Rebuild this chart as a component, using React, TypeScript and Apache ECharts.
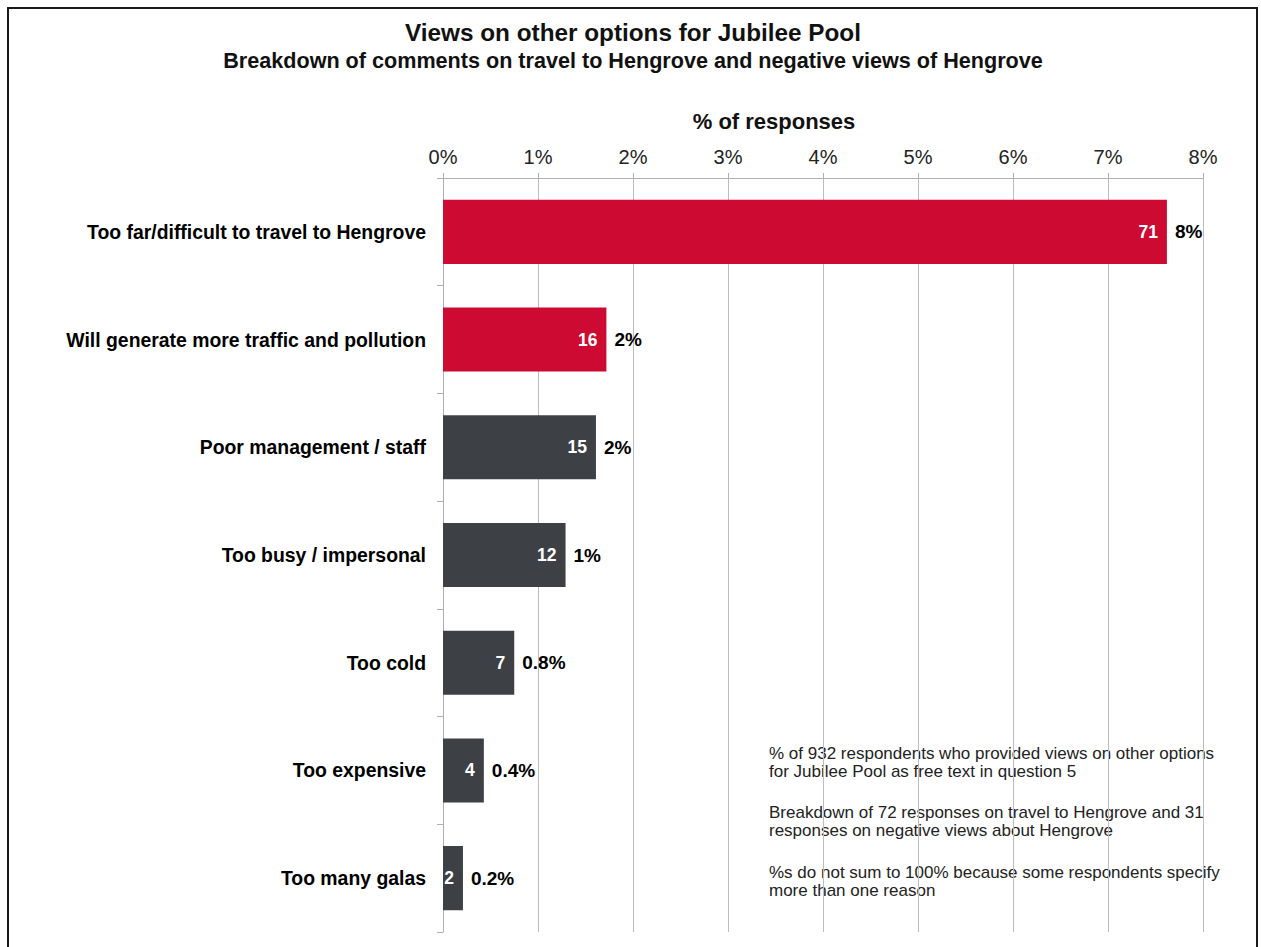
import React, { useEffect, useRef } from "react";
import * as echarts from "echarts";

const categories = [
  "Too far/difficult to travel to Hengrove",
  "Will generate more traffic and pollution",
  "Poor management / staff",
  "Too busy / impersonal",
  "Too cold",
  "Too expensive",
  "Too many galas",
];
const counts = [71, 16, 15, 12, 7, 4, 2];
const percents = [7.62, 1.72, 1.61, 1.29, 0.75, 0.43, 0.21];
const percentLabels = ["8%", "2%", "2%", "1%", "0.8%", "0.4%", "0.2%"];
const barColors = ["#cc0a32", "#cc0a32", "#3d4146", "#3d4146", "#3d4146", "#3d4146", "#3d4146"];
const xTicks = [0, 1, 2, 3, 4, 5, 6, 7, 8];

const titleText = "Views on other options for Jubilee Pool";
const subtitleText = "Breakdown of comments on travel to Hengrove and negative views of Hengrove";
const axisTitle = "% of responses";
const notes = [
  ["% of 932 respondents who provided views on other options", "for Jubilee Pool as free text in question 5"],
  ["Breakdown of 72 responses on travel to Hengrove and 31", "responses on negative views about Hengrove"],
  ["%s do not sum to 100% because some respondents specify", "more than one reason"],
];

const FONT = "'Liberation Sans', Arial, Helvetica, sans-serif";

export default function App() {
  const ref = useRef<HTMLDivElement>(null);

  useEffect(() => {
    if (!ref.current) return;
    const chart = echarts.init(ref.current, undefined, { renderer: "svg" });

    const noteTexts: any[] = [];
    const noteTops = [753, 812, 872];
    notes.forEach((para, i) => {
      para.forEach((line, j) => {
        noteTexts.push({
          type: "text",
          x: 769,
          y: noteTops[i] + j * 18,
          style: {
            text: line,
            fontFamily: FONT,
            fontSize: 17,
            fill: "#222",
            textAlign: "left",
            textVerticalAlign: "middle",
          },
        });
      });
    });

    chart.setOption({
      animation: false,
      backgroundColor: "#ffffff",
      textStyle: { fontFamily: FONT },
      grid: {
        left: 443,
        right: 58,
        top: 178,
        bottom: 15,
        containLabel: false,
        outerBoundsMode: "none",
      },
      xAxis: {
        type: "value",
        position: "top",
        min: xTicks[0],
        max: xTicks[xTicks.length - 1],
        interval: 1,
        axisLine: { show: true, lineStyle: { color: "#b0b0b0", width: 1 } },
        axisTick: { show: true, length: 5, lineStyle: { color: "#b0b0b0" } },
        splitLine: { show: true, lineStyle: { color: "#bdbdbd", width: 1 } },
        axisLabel: {
          formatter: "{value}%",
          fontFamily: FONT,
          fontSize: 20,
          color: "#222",
          margin: 11,
        },
      },
      yAxis: {
        type: "category",
        inverse: true,
        data: categories,
        axisLine: { show: true, lineStyle: { color: "#b0b0b0", width: 1 } },
        axisTick: { show: true, length: 6, lineStyle: { color: "#b0b0b0" } },
        axisLabel: {
          fontFamily: FONT,
          fontSize: 19.4,
          fontWeight: "bold",
          color: "#000",
          margin: 17,
        },
      },
      series: [
        {
          type: "bar",
          data: percents.map((v, i) => ({ value: v, itemStyle: { color: barColors[i] } })),
          barWidth: "59.5%",
          label: {
            show: true,
            position: "insideRight",
            distance: 9,
            formatter: (p: any) => String(counts[p.dataIndex]),
            fontFamily: FONT,
            fontSize: 17.5,
            fontWeight: "bold",
            color: "#ffffff",
          },
          z: 3,
        },
        {
          type: "bar",
          data: percents,
          barWidth: "59.5%",
          barGap: "-100%",
          itemStyle: { color: "rgba(0,0,0,0)" },
          label: {
            show: true,
            position: "right",
            distance: 8,
            formatter: (p: any) => percentLabels[p.dataIndex],
            fontFamily: FONT,
            fontSize: 19,
            fontWeight: "bold",
            color: "#000",
          },
          silent: true,
          z: 4,
        },
      ],
      graphic: [
        {
          type: "text",
          x: 633,
          y: 32,
          style: {
            text: titleText,
            fontFamily: FONT,
            fontSize: 24.3,
            fontWeight: "bold",
            fill: "#111",
            textAlign: "center",
            textVerticalAlign: "middle",
          },
        },
        {
          type: "text",
          x: 633,
          y: 60,
          style: {
            text: subtitleText,
            fontFamily: FONT,
            fontSize: 21.6,
            fontWeight: "bold",
            fill: "#111",
            textAlign: "center",
            textVerticalAlign: "middle",
          },
        },
        {
          type: "text",
          x: 774,
          y: 121,
          style: {
            text: axisTitle,
            fontFamily: FONT,
            fontSize: 22,
            fontWeight: "bold",
            fill: "#111",
            textAlign: "center",
            textVerticalAlign: "middle",
          },
        },
        ...noteTexts,
      ],
    });

    return () => {
      chart.dispose();
    };
  }, []);

  return (
    <div
      style={{
        position: "absolute",
        left: 0,
        top: 0,
        width: 1261,
        height: 947,
        overflow: "hidden",
        background: "#fff",
      }}
    >
      <div ref={ref} style={{ position: "absolute", left: 0, top: 0, width: 1261, height: 947 }} />
      <div
        style={{
          position: "absolute",
          left: 7,
          top: 7,
          width: 1251,
          height: 960,
          boxSizing: "border-box",
          border: "2px solid #1a1a1a",
          borderBottom: "none",
          pointerEvents: "none",
        }}
      />
    </div>
  );
}
